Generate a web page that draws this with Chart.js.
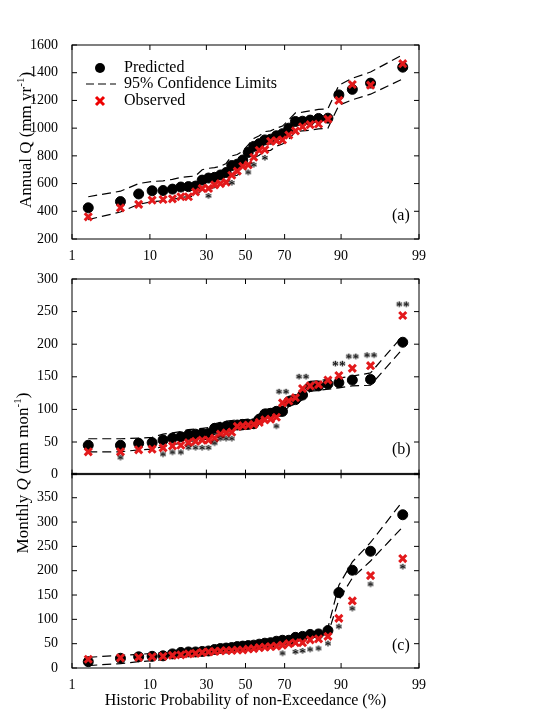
<!DOCTYPE html>
<html>
<head>
<meta charset="utf-8">
<script src="https://cdn.jsdelivr.net/npm/chart.js@4.4.0/dist/chart.umd.min.js"></script>
<style>
  body { margin: 0; background: #fff; font-family: 'Liberation Serif', serif; }
  #wrap { position: relative; width: 553px; height: 714px; }
  .cv { position: absolute; left: 0; width: 553px; }
  .lbl { position: absolute; font-size: 16px; color: #000; }
  .ytitle { position: absolute; font-size: 17px; white-space: nowrap; transform: translate(-50%, -50%) rotate(-90deg); }
  .leg { position: absolute; font-size: 16px; }
</style>
</head>
<body>
<div id="wrap">
  <canvas id="ca" class="cv" style="top:0;height:262px" width="553" height="262"></canvas>
  <canvas id="cb" class="cv" style="top:262px;height:227px" width="553" height="227"></canvas>
  <canvas id="cc" class="cv" style="top:459px;height:255px" width="553" height="255"></canvas>
  <div class="ytitle" style="left:25px;top:140px">Annual Q (mm yr<sup style="font-size:11px">-1</sup>)</div>
  <div class="ytitle" style="left:22px;top:473px">Monthly <i>Q</i> (mm mon<sup style="font-size:11px">-1</sup>)</div>
  <div class="lbl" style="left:392px;top:206px">(a)</div>
  <div class="lbl" style="left:392px;top:440px">(b)</div>
  <div class="lbl" style="left:392px;top:636px">(c)</div>
  <svg style="position:absolute;left:86px;top:60px" width="32" height="50">
    <circle cx="14" cy="8" r="5" fill="#000"/>
    <line x1="0" y1="24" x2="30" y2="24" stroke="#000" stroke-width="1.2" stroke-dasharray="8,4"/>
    <path d="M10 37 L18 45 M18 37 L10 45" stroke="#e00" stroke-width="3"/>
  </svg>
  <div class="leg" style="left:124px;top:58px">Predicted</div>
  <div class="leg" style="left:124px;top:74px">95% Confidence Limits</div>
  <div class="leg" style="left:124px;top:91px">Observed</div>
</div>
<script>
// plotting positions (%), same 34 ranks in every panel
const probs = [1.75, 4.68, 7.60, 10.53, 13.45, 16.37, 19.30, 22.22, 25.15, 28.07, 30.99, 33.92,
  36.84, 39.77, 42.69, 45.61, 48.54, 51.46, 54.39, 57.31, 60.23, 63.16, 66.08, 69.01, 71.93,
  74.85, 77.78, 80.70, 83.63, 86.55, 89.47, 92.40, 95.32, 98.25];
const probTicks = [1, 10, 30, 50, 70, 90, 99];

// (a) annual
const aPred = [425, 470, 525, 548, 550, 560, 575, 578, 582, 625, 640, 645, 662, 680, 730, 740, 770,
  825, 868, 888, 915, 920, 945, 960, 1000, 1048, 1050, 1058, 1070, 1072, 1240, 1280, 1325, 1440];
const aObs = [360, 425, 450, 480, 485, 490, 505, 505, 540, 565, 565, 590, 600, 610, 660, 690, 725,
  735, 790, 840, 845, 905, 910, 915, 950, 980, 1010, 1025, 1030, 1065, 1200, 1315, 1310, 1465];
const aUpper = [505, 545, 600, 615, 620, 630, 645, 650, 655, 700, 710, 715, 725, 745, 800, 810, 835,
  880, 925, 945, 975, 980, 1000, 1015, 1060, 1110, 1115, 1125, 1135, 1140, 1310, 1360, 1405, 1530];
const aLower = [340, 395, 450, 470, 475, 485, 500, 505, 510, 555, 565, 570, 585, 600, 650, 660, 690,
  740, 785, 805, 835, 840, 870, 885, 920, 975, 980, 985, 995, 1000, 1165, 1205, 1245, 1355];
const aStars = [[11, 510, '*'], [15, 605, '*'], [18, 680, '*'], [19, 735, '*'], [21, 785, '*']];

// (b) monthly
const bPred = [45, 45, 48, 49, 53, 56, 58, 61, 62, 63, 63, 71, 72, 74, 75, 76, 77, 77, 78, 85, 93, 94,
  97, 97, 112, 115, 122, 135, 136, 139, 141, 145, 146, 203];
const bObs = [35, 35, 38, 39, 41, 44, 45, 49, 51, 53, 53, 56, 62, 64, 65, 74, 75, 76, 77, 80, 84, 85,
  88, 110, 113, 118, 132, 136, 138, 145, 152, 163, 167, 244];
const bUpper = [55, 55, 56, 57, 62, 64, 66, 69, 70, 71, 72, 78, 80, 82, 83, 84, 84, 85, 86, 93, 100,
  101, 103, 104, 120, 122, 130, 143, 144, 146, 148, 151, 156, 213];
const bLower = [35, 35, 38, 39, 43, 46, 48, 51, 52, 53, 55, 62, 63, 65, 66, 68, 69, 70, 71, 78, 86, 87,
  89, 90, 105, 108, 115, 128, 129, 131, 133, 136, 137, 193];
const bStars = [[2, 26, '*'], [5, 31, '*'], [6, 34, '*'], [7, 34, '*'], [8, 41, '*'], [9, 41, '*'],
  [10, 41, '*'], [11, 41, '*'], [12, 48, '*'], [13, 55, '*'], [14, 55, '*'], [15, 55, '*'],
  [23, 74, '*'], [24, 127, '**'], [27, 150, '**'], [31, 170, '**'], [32, 181, '**'], [33, 183, '**'],
  [34, 261, '**']];

// (c) monthly
const cPred = [13, 20, 23, 24, 25, 29, 32, 33, 33, 34, 35, 38, 40, 41, 42, 44, 45, 46, 47, 49, 51, 52,
  55, 57, 57, 63, 65, 69, 70, 77, 155, 201, 240, 315];
const cObs = [18, 21, 22, 23, 24, 26, 27, 29, 30, 32, 33, 34, 35, 36, 36, 37, 37, 39, 40, 42, 43, 44,
  45, 47, 50, 52, 52, 58, 60, 65, 102, 138, 190, 225];
const cUpper = [22, 26, 28, 30, 31, 33, 35, 36, 37, 38, 40, 42, 43, 45, 46, 47, 48, 50, 51, 53, 55, 57,
  60, 62, 63, 68, 70, 74, 76, 83, 170, 218, 258, 343];
const cLower = [5, 9, 13, 15, 17, 21, 24, 26, 27, 28, 30, 33, 35, 36, 37, 39, 40, 41, 43, 45, 46, 47,
  50, 51, 52, 57, 59, 62, 64, 70, 140, 185, 220, 290];
const cStars = [[24, 30, '*'], [26, 33, '*'], [27, 35, '*'], [28, 38, '*'], [29, 40, '*'], [30, 50, '*'],
  [31, 85, '*'], [32, 122, '*'], [33, 172, '*'], [34, 208, '*']];

const serif = "'Liberation Serif', 'DejaVu Serif', serif";

// inverse standard normal (Acklam) for the probability axis
function normInv(p) {
  const a = [-39.6968302866538, 220.946098424521, -275.928510446969, 138.357751867269, -30.6647980661472, 2.50662827745924];
  const b = [-54.4760987982241, 161.585836858041, -155.698979859887, 66.8013118877197, -13.2806815528857];
  const c = [-0.00778489400243029, -0.322396458041136, -2.40075827716184, -2.54973253934373, 4.37466414146497, 2.93816398269878];
  const d = [0.00778469570904146, 0.32246712907004, 2.445134137143, 3.75440866190742];
  let q, r;
  if (p < 0.02425) {
    q = Math.sqrt(-2 * Math.log(p));
    return (((((c[0] * q + c[1]) * q + c[2]) * q + c[3]) * q + c[4]) * q + c[5]) / ((((d[0] * q + d[1]) * q + d[2]) * q + d[3]) * q + 1);
  }
  if (p > 1 - 0.02425) return -normInv(1 - p);
  q = p - 0.5; r = q * q;
  return (((((a[0] * r + a[1]) * r + a[2]) * r + a[3]) * r + a[4]) * r + a[5]) * q / (((((b[0] * r + b[1]) * r + b[2]) * r + b[3]) * r + b[4]) * r + 1);
}
const zOf = (pct) => normInv(pct / 100);

function starImg(txt) {
  const cv = document.createElement('canvas');
  cv.width = 20; cv.height = 14;
  const g = cv.getContext('2d');
  g.font = 'bold 14px ' + serif;
  g.fillStyle = '#000';
  g.textAlign = 'center';
  g.textBaseline = 'middle';
  g.fillText(txt, 10, 10);
  return cv;
}
const stars = { '*': starImg('*'), '**': starImg('**') };

const frame = {
  id: 'frame',
  afterDraw(chart) {
    const { ctx, chartArea: ca, scales } = chart;
    ctx.save();
    ctx.strokeStyle = '#000';
    ctx.lineWidth = 1;
    ctx.strokeRect(ca.left, ca.top, ca.right - ca.left, ca.bottom - ca.top);
    ctx.beginPath();
    scales.x.ticks.forEach((t) => {
      const px = scales.x.getPixelForValue(t.value);
      ctx.moveTo(px, ca.bottom); ctx.lineTo(px, ca.bottom - 5);
      ctx.moveTo(px, ca.top); ctx.lineTo(px, ca.top + 5);
    });
    scales.y.ticks.forEach((t) => {
      const py = scales.y.getPixelForValue(t.value);
      ctx.moveTo(ca.left, py); ctx.lineTo(ca.left + 5, py);
      ctx.moveTo(ca.right, py); ctx.lineTo(ca.right - 5, py);
    });
    ctx.stroke();
    ctx.restore();
  }
};

function pts(vals) { return vals.map((v, i) => ({ x: zOf(probs[i]), y: v })); }

function makePanel(id, o) {
  const line = (vals) => ({
    type: 'line', data: pts(vals), borderColor: '#000', borderWidth: 1.2, borderDash: [9, 5],
    pointRadius: 0, fill: false, tension: 0, order: 3
  });
  new Chart(document.getElementById(id), {
    type: 'scatter',
    data: {
      datasets: [
        line(o.upper),
        line(o.lower),
        { data: pts(o.pred), backgroundColor: '#000', borderColor: '#000', pointRadius: 5, order: 2 },
        { data: pts(o.obs), pointStyle: 'crossRot', borderColor: '#e31a1c', borderWidth: 3, pointRadius: 5, order: 1 },
        {
          data: o.stars.map((s) => ({ x: zOf(probs[s[0] - 1]), y: s[1] })),
          pointStyle: o.stars.map((s) => stars[s[2]]), order: 0
        }
      ]
    },
    options: {
      responsive: false,
      animation: false,
      events: [],
      layout: { padding: { top: o.padTop, right: 134, bottom: o.padBottom, left: 0 } },
      plugins: { legend: { display: false }, tooltip: { enabled: false } },
      scales: {
        x: {
          type: 'linear', min: zOf(1), max: zOf(99),
          afterBuildTicks: (s) => { s.ticks = probTicks.map((p) => ({ value: zOf(p), label: String(p) })); },
          afterFit: (s) => { s.height = o.xHeight; },
          grid: { display: false },
          border: { display: false },
          ticks: {
            display: o.xLabels, color: '#000', font: { family: serif, size: 14 }, padding: 1,
            callback: (v, i) => String(probTicks[i])
          },
          title: {
            display: !!o.xTitle, text: o.xTitle, color: '#000', padding: { top: 8 },
            font: { family: serif, size: 16 }
          }
        },
        y: {
          min: o.ymin, max: o.ymax,
          afterFit: (s) => { s.width = 72; },
          grid: { display: false },
          border: { display: false },
          ticks: {
            stepSize: o.step, color: '#000', font: { family: serif, size: 14 }, padding: 6,
            callback: (v) => (o.hideTop && v === o.ymax ? '' : v)
          }
        }
      }
    },
    plugins: [frame]
  });
}

makePanel('ca', { pred: aPred, obs: aObs, upper: aUpper, lower: aLower, stars: aStars,
  ymin: 200, ymax: 1600, step: 200, padTop: 45, padBottom: 0, xHeight: 23, xLabels: true });
makePanel('cb', { pred: bPred, obs: bObs, upper: bUpper, lower: bLower, stars: bStars,
  ymin: 0, ymax: 300, step: 50, padTop: 17, padBottom: 4, xHeight: 0, xLabels: false });
makePanel('cc', { pred: cPred, obs: cObs, upper: cUpper, lower: cLower, stars: cStars,
  ymin: 0, ymax: 400, step: 50, padTop: 0, padBottom: 0, xHeight: 46, xLabels: true,
  hideTop: true, xTitle: 'Historic Probability of non-Exceedance (%)' });
</script>
</body>
</html>
